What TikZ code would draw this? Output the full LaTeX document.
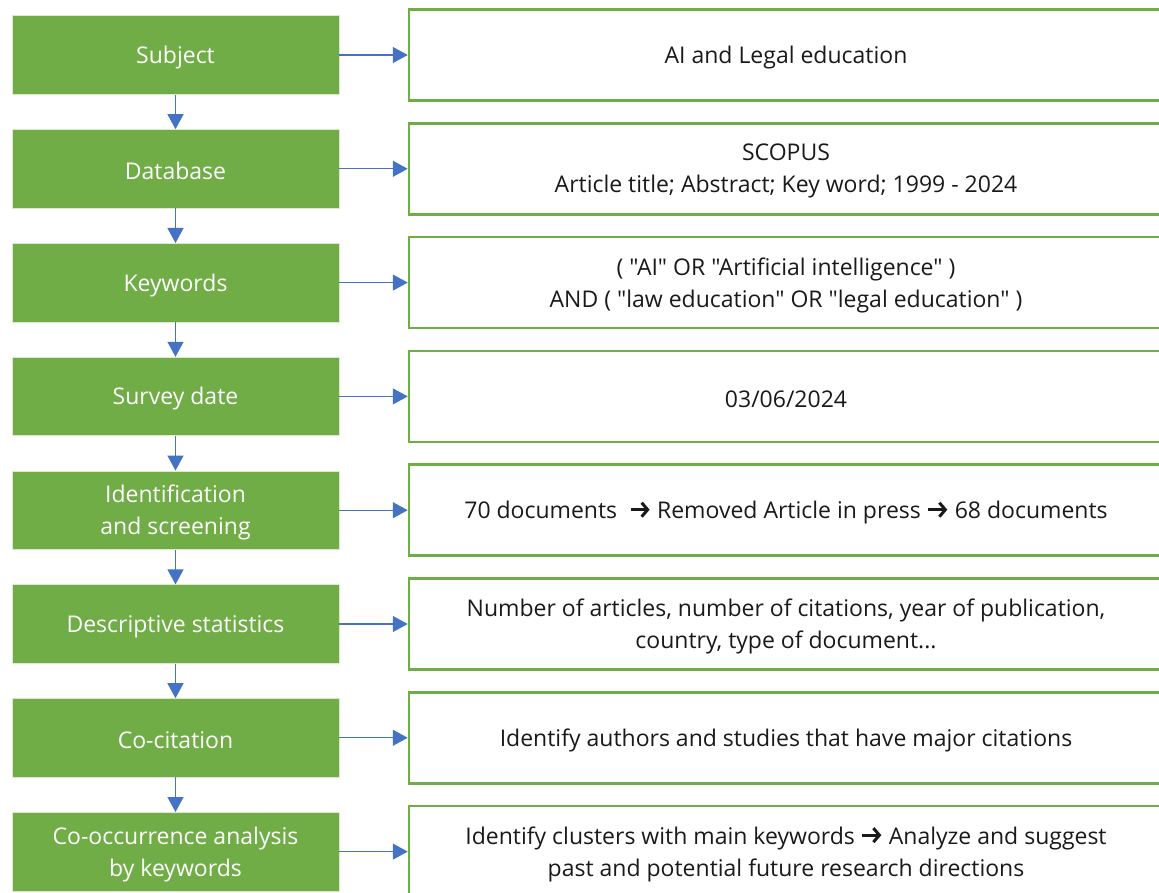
\documentclass[tikz,border=0pt]{standalone}
\usepackage{fontspec}
\setmainfont{Open Sans}[Ligatures=TeXOff]
\usetikzlibrary{arrows.meta}
\definecolor{gr}{HTML}{70AD47}
\definecolor{bl}{HTML}{4472C4}
\definecolor{tx}{HTML}{1A1A1A}
\newcommand{\rarr}{\tikz[baseline=-9pt,x=1pt,y=1pt]{\draw[draw=tx,line width=3pt,line join=miter,-{Straight Barb[length=6pt,width=14pt,line width=3pt]}] (0,0) -- (19,0);}}
\begin{document}
\begin{tikzpicture}[x=1pt,y=-1pt,
  stage/.style={fill=gr, draw=white!75!gr, line width=0.6pt, minimum width=327pt, minimum height=78.6pt, inner sep=0pt},
  info/.style={draw=gr, line width=2.5pt, fill=white, minimum width=754pt, minimum height=91pt, inner sep=0pt},
  stxt/.style={text=white, align=center, font=\fontsize{23}{32}\selectfont, inner sep=0pt, yshift=-2.5pt},
  itxt/.style={text=tx, align=center, font=\fontsize{23}{32}\selectfont, inner sep=0pt, yshift=-2.5pt},
  arr/.style={draw=bl, line width=1.3pt, -{Triangle[length=15pt,width=16pt]}}]
\useasboundingbox (0,0) rectangle (1159,893);
\foreach \i in {1,...,8} {
  \node[stage] (s\i) at (175.5,{55+113.8*(\i-1)}) {};
  \node[info] (r\i) at (786,{55+113.8*(\i-1)}) {};
}
\node[stxt] (ts1) at (s1) {Subject};
\node[stxt] (ts2) at (s2) {Database};
\node[stxt] (ts3) at (s3) {Keywords};
\node[stxt] (ts4) at (s4) {Survey date};
\node[stxt] (ts5) at (s5) {Identification\\and screening};
\node[stxt] (ts6) at (s6) {Descriptive statistics};
\node[stxt] (ts7) at (s7) {Co-citation};
\node[stxt] (ts8) at (s8) {Co-occurrence analysis\\by keywords};
\node[itxt] (tr1) at (r1) {AI and Legal education};
\node[itxt] (tr2) at (r2) {SCOPUS\\Article title; Abstract; Key word; 1999 - 2024};
\node[itxt] (tr3) at (r3) {( "AI" OR "Artificial intelligence" )\\AND ( "law education" OR "legal education" )};
\node[itxt] (tr4) at (r4) {03/06/2024};
\node[itxt] (tr5) at (r5) {70 documents\ \ \rarr{} Removed Article in press \rarr{} 68 documents};
\node[itxt] (tr6) at (r6) {Number of articles, number of citations, year of publication,\\country, type of document...};
\node[itxt] (tr7) at (r7) {Identify authors and studies that have major citations};
\node[itxt] (tr8) at (r8) {Identify clusters with main keywords \rarr{} Analyze and suggest\\past and potential future research directions};
\foreach \i in {1,...,8} {\draw[arr] (s\i.east) -- (r\i.west);}
\foreach \i/\j in {1/2,2/3,3/4,4/5,5/6,6/7,7/8} {\draw[arr] (s\i.south) -- (s\j.north);}
\end{tikzpicture}
\end{document}
